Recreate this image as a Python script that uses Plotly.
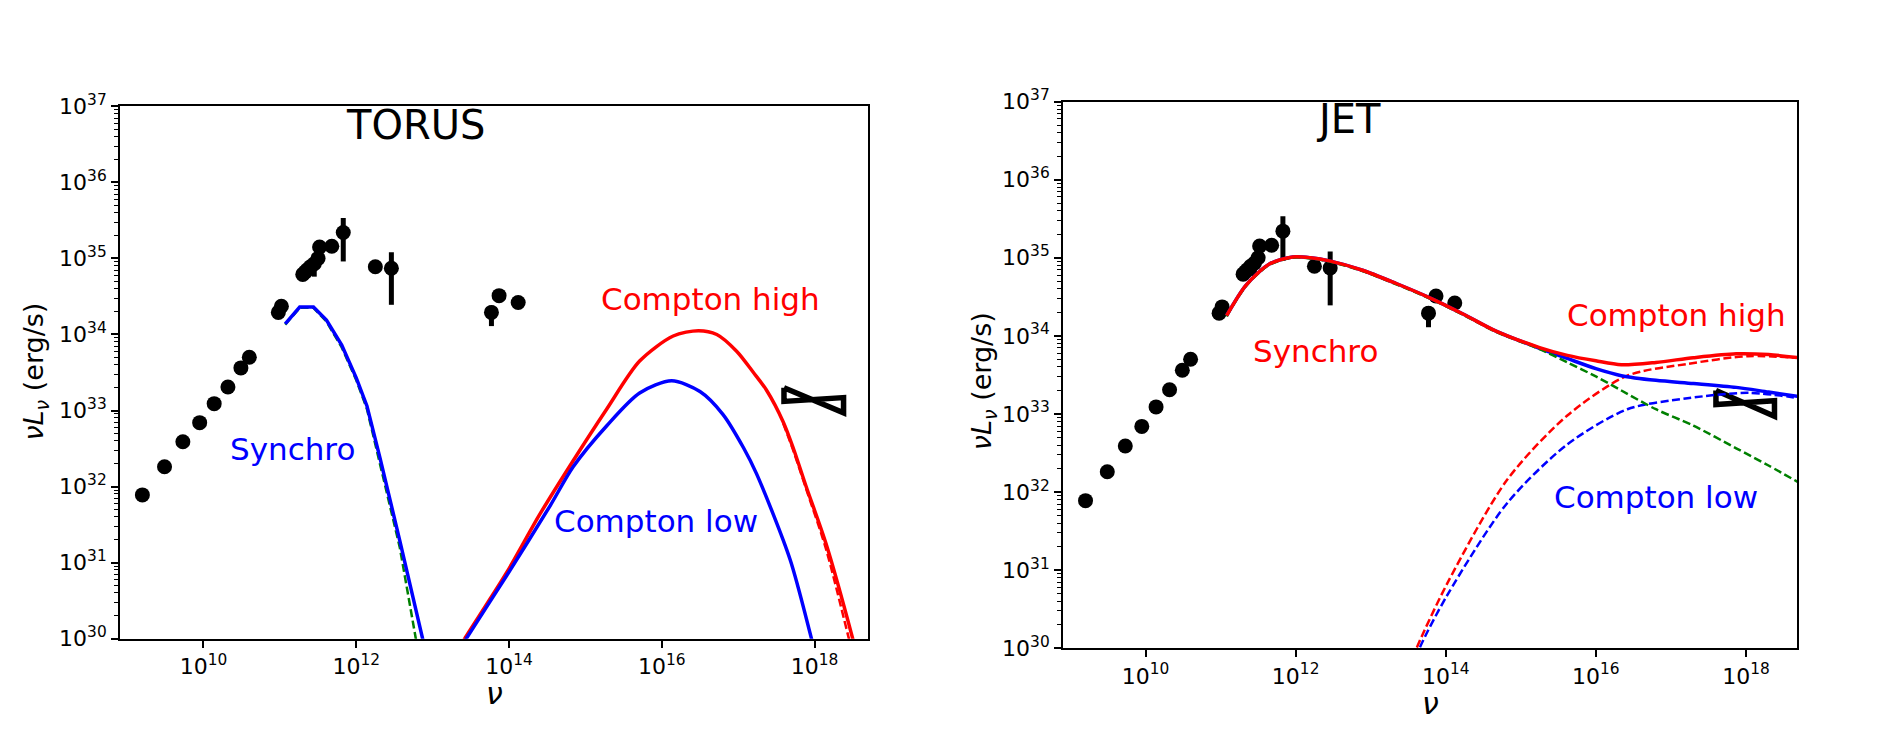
import numpy as np
import plotly.graph_objects as go

# ---------------- data (log10 values) ----------------
# observed SED points (same in both panels)
log_nu_obs = [9.20, 9.49, 9.73, 9.95, 10.14, 10.32, 10.49, 10.60, 10.98, 11.02,
              11.30, 11.33, 11.36, 11.40, 11.45, 11.50, 11.52, 11.68, 11.83,
              12.25, 12.46, 13.77, 13.87, 14.12]
log_L_obs = [31.89, 32.26, 32.59, 32.84, 33.09, 33.31, 33.56, 33.70, 34.29, 34.37,
             34.79, 34.82, 34.85, 34.89, 34.93, 35.00, 35.15, 35.16, 35.34,
             34.89, 34.87, 34.29, 34.51, 34.42]
# points with error bars
log_nu_err = [11.45, 11.83, 12.46, 13.77]
log_L_err = [34.93, 35.34, 34.87, 34.29]
log_L_err_lo = [34.76, 34.96, 34.39, 34.11]
log_L_err_hi = [35.03, 35.53, 35.08, 34.38]
# X-ray bow-tie
log_nu_bowtie = [17.60, 18.38]
log_L_bowtie_a = [33.30, 32.97]
log_L_bowtie_b = [33.12, 33.17]

# TORUS model
torus_sync_nu = [11.07, 11.26, 11.44, 11.61, 11.81, 12.00, 12.14, 12.31, 12.57, 12.87, 12.95]
torus_sync_L = [34.14, 34.36, 34.36, 34.19, 33.86, 33.43, 33.06, 32.38, 31.29, 30.00, 29.65]
torus_sync_dash_nu = [11.07, 11.26, 11.44, 11.61, 11.81, 12.00, 12.14, 12.27, 12.57, 12.78, 12.86]
torus_sync_dash_L = [34.13, 34.35, 34.35, 34.17, 33.83, 33.40, 33.02, 32.46, 31.20, 30.00, 29.65]
torus_chigh_nu = [13.30, 13.42, 13.97, 14.40, 14.84, 15.28, 15.71, 16.15, 16.48, 16.72, 16.98,
                  17.20, 17.37, 17.59, 17.72, 17.89, 18.15, 18.50, 18.60]
torus_chigh_L = [29.80, 30.00, 30.87, 31.63, 32.34, 33.02, 33.65, 33.98, 34.05, 34.00, 33.78,
                 33.50, 33.27, 32.85, 32.51, 32.00, 31.25, 30.00, 29.60]
torus_chigh_dash_nu = [17.59, 17.72, 17.89, 18.15, 18.45, 18.55]
torus_chigh_dash_L = [32.83, 32.48, 31.97, 31.18, 30.00, 29.60]
torus_clow_nu = [13.32, 13.44, 13.97, 14.54, 14.84, 15.28, 15.71, 16.13, 16.50, 16.80, 17.07,
                 17.24, 17.68, 17.96, 18.05]
torus_clow_L = [29.80, 30.00, 30.83, 31.75, 32.26, 32.80, 33.23, 33.39, 33.25, 32.95, 32.51,
                32.17, 31.04, 30.00, 29.65]

# JET model
jet_nu = [11.08, 11.34, 11.65, 11.96, 12.20, 12.45, 12.89, 13.34, 13.78, 14.23, 14.67,
          15.25, 15.62, 16.00, 16.34, 16.80, 17.30, 17.87, 18.30, 18.80]
jet_total_high_L = [34.26, 34.65, 34.92, 35.01, 35.00, 34.96, 34.84, 34.67, 34.49, 34.28, 34.06,
                    33.85, 33.75, 33.68, 33.63, 33.66, 33.72, 33.77, 33.76, 33.71]
jet_total_low_L = [34.26, 34.65, 34.92, 35.01, 35.00, 34.96, 34.84, 34.67, 34.49, 34.28, 34.06,
                   33.84, 33.71, 33.58, 33.49, 33.43, 33.39, 33.34, 33.28, 33.21]
jet_sync_L = [34.25, 34.64, 34.91, 35.00, 34.99, 34.95, 34.83, 34.66, 34.48, 34.27, 34.05,
              33.83, 33.66, 33.48, 33.30, 33.06, 32.85, 32.56, 32.34, 32.07]
jet_chigh_nu = [13.45, 13.61, 14.02, 14.82, 15.62, 16.42, 17.22, 18.03, 18.80]
jet_chigh_L = [29.60, 30.00, 30.83, 32.16, 32.98, 33.49, 33.64, 33.74, 33.71]
jet_clow_nu = [13.50, 13.65, 14.02, 14.82, 15.62, 16.42, 17.22, 18.03, 18.80]
jet_clow_L = [29.60, 30.00, 30.68, 31.86, 32.61, 33.06, 33.20, 33.27, 33.19]

# ---------------- figure ----------------
W, H = 1891, 741
BLUE, RED, GREEN = "#0000ff", "#ff0000", "#008000"
FONT = "DejaVu Sans"


def lin(v):
    return np.power(10.0, np.asarray(v, dtype=float))


fig = go.Figure()


def add_panel(xa, ya):
    # error bars
    y = lin(log_L_err)
    fig.add_trace(go.Scatter(
        x=lin(log_nu_err), y=y, mode="markers",
        marker=dict(size=1, color="black", opacity=0),
        error_y=dict(type="data", symmetric=False,
                     array=lin(log_L_err_hi) - y, arrayminus=y - lin(log_L_err_lo),
                     thickness=5, width=0, color="black"),
        xaxis=xa, yaxis=ya, showlegend=False, hoverinfo="skip"))
    # points
    fig.add_trace(go.Scatter(
        x=lin(log_nu_obs), y=lin(log_L_obs), mode="markers",
        marker=dict(size=15, color="black"),
        xaxis=xa, yaxis=ya, showlegend=False))
    # bow-tie
    bx = [log_nu_bowtie[0], log_nu_bowtie[1], log_nu_bowtie[1], log_nu_bowtie[0], log_nu_bowtie[0]]
    by = [log_L_bowtie_a[0], log_L_bowtie_a[1], log_L_bowtie_b[1], log_L_bowtie_b[0], log_L_bowtie_a[0]]
    fig.add_trace(go.Scatter(
        x=lin(bx), y=lin(by), mode="lines",
        line=dict(color="black", width=5.5),
        xaxis=xa, yaxis=ya, showlegend=False))


def line(xs, ys, color, xa, ya, width=3.5, dash=None, smooth=True):
    fig.add_trace(go.Scatter(
        x=lin(xs), y=lin(ys), mode="lines",
        line=dict(color=color, width=width, dash=dash,
                  shape="spline" if smooth else "linear", smoothing=0.8),
        xaxis=xa, yaxis=ya, showlegend=False))


DASH = "8px,3.5px"

# TORUS panel
add_panel("x", "y")
line(torus_sync_dash_nu, torus_sync_dash_L, GREEN, "x", "y", width=2.5, dash=DASH, smooth=False)
line(torus_sync_nu, torus_sync_L, BLUE, "x", "y", smooth=False)
line(torus_chigh_dash_nu, torus_chigh_dash_L, RED, "x", "y", width=2.5, dash=DASH)
line(torus_chigh_nu, torus_chigh_L, RED, "x", "y")
line(torus_clow_nu, torus_clow_L, BLUE, "x", "y")

# JET panel
add_panel("x2", "y2")
line(jet_chigh_nu, jet_chigh_L, RED, "x2", "y2", width=2.5, dash=DASH)
line(jet_clow_nu, jet_clow_L, BLUE, "x2", "y2", width=2.5, dash=DASH)
line(jet_nu, jet_total_low_L, BLUE, "x2", "y2")
line(jet_nu, jet_sync_L, GREEN, "x2", "y2", width=2.5, dash=DASH)
line(jet_nu, jet_total_high_L, RED, "x2", "y2")

# axes
xt_vals = [1e10, 1e12, 1e14, 1e16, 1e18]
xt_text = ["10<sup>10</sup>", "10<sup>12</sup>", "10<sup>14</sup>", "10<sup>16</sup>", "10<sup>18</sup>"]
yt_vals = [10.0 ** k for k in range(30, 38)]
yt_text = ["10<sup>%d</sup>" % k for k in range(30, 38)]
y_minor = [m * 10.0 ** k for k in range(30, 37) for m in range(2, 10)]


def xaxis(domain, rng):
    return dict(type="log", domain=domain, range=rng, showgrid=False, zeroline=False,
                showline=True, mirror=True, linecolor="black", linewidth=1.8,
                ticks="outside", ticklen=7, tickwidth=1.6, tickcolor="black",
                tickmode="array", tickvals=xt_vals, ticktext=xt_text,
                tickfont=dict(family=FONT, size=22, color="black"))


def yaxis(domain, anchor):
    return dict(type="log", domain=domain, range=[30, 37], anchor=anchor,
                showgrid=False, zeroline=False,
                showline=True, mirror=True, linecolor="black", linewidth=1.8,
                ticks="outside", ticklen=7, tickwidth=1.6, tickcolor="black",
                tickmode="array", tickvals=yt_vals, ticktext=yt_text,
                tickfont=dict(family=FONT, size=22, color="black"),
                minor=dict(ticks="outside", ticklen=4, tickwidth=1.2, tickcolor="black",
                           tickmode="array", tickvals=y_minor, showgrid=False))


def px_x(p):
    return p / W


def px_y(p):
    return 1 - p / H


fig.update_layout(
    width=W, height=H, margin=dict(l=0, r=0, t=0, b=0),
    paper_bgcolor="white", plot_bgcolor="white",
    font=dict(family=FONT, color="black"),
    xaxis=dict(xaxis([px_x(120), px_x(868)], [8.907, 18.70]), anchor="y"),
    yaxis=yaxis([px_y(648), px_y(94)], "x"),
    xaxis2=dict(xaxis([px_x(1063), px_x(1797)], [8.90, 18.68]), anchor="y2"),
    yaxis2=yaxis([px_y(658), px_y(89)], "x2"),
)

ann = []


def text(t, x, y, xref, yref, size, color="black", angle=0):
    ann.append(dict(text=t, x=x, y=y, xref=xref, yref=yref, showarrow=False,
                    font=dict(family=FONT, size=size, color=color),
                    textangle=angle, xanchor="center", yanchor="middle"))


# panel texts (log10 data coordinates)
text("TORUS", 12.78, 36.75, "x", "y", 40)
text("Synchro", 11.16, 32.49, "x", "y", 31, BLUE)
text("Compton high", 16.64, 34.47, "x", "y", 31, RED)
text("Compton low", 15.93, 31.55, "x", "y", 31, BLUE)
text("JET", 12.70, 36.77, "x2", "y2", 40)
text("Synchro", 12.26, 33.81, "x2", "y2", 31, RED)
text("Compton high", 17.08, 34.27, "x2", "y2", 31, RED)
text("Compton low", 16.80, 31.94, "x2", "y2", 31, BLUE)

# axis titles
ytitle = "<i>νL</i><sub><i>ν</i></sub> (erg/s)"
text(ytitle, px_x(36), px_y(370), "paper", "paper", 27, angle=-90)
text(ytitle, px_x(983), px_y(380), "paper", "paper", 27, angle=-90)
text("<i>ν</i>", px_x(494), px_y(705), "paper", "paper", 30)
text("<i>ν</i>", px_x(1430), px_y(716), "paper", "paper", 30)

fig.update_layout(annotations=ann)
fig.write_html("out.html")
